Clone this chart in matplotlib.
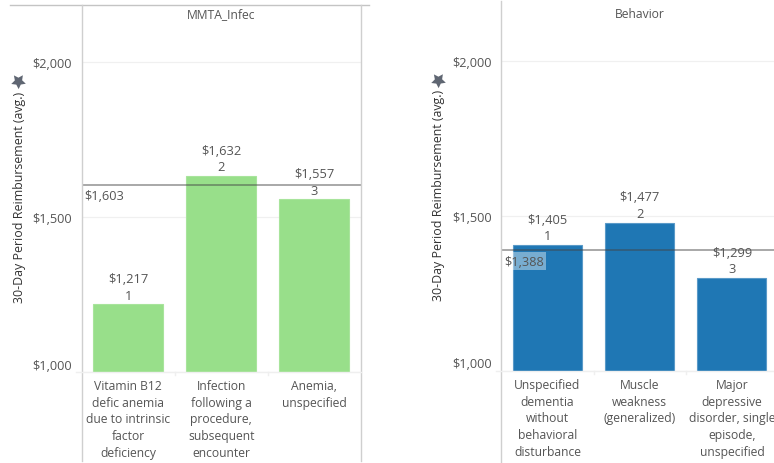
import matplotlib
matplotlib.use('Agg')
import matplotlib.pyplot as plt
from matplotlib.lines import Line2D
from matplotlib.ticker import FixedLocator, FuncFormatter

plt.rcParams['font.family'] = ['Open Sans', 'DejaVu Sans']

left_title = 'MMTA_Infec'
left_labels = ['Vitamin B12\ndefic anemia\ndue to intrinsic\nfactor\ndeficiency',
               'Infection\nfollowing a\nprocedure,\nsubsequent\nencounter',
               'Anemia,\nunspecified']
left_values = [1217, 1632, 1557]
left_ranks = [1, 2, 3]
left_ref = 1603

right_title = 'Behavior'
right_labels = ['Unspecified\ndementia\nwithout\nbehavioral\ndisturbance',
                'Muscle\nweakness\n(generalized)',
                'Major\ndepressive\ndisorder, single\nepisode,\nunspecified']
right_values = [1405, 1477, 1299]
right_ranks = [1, 2, 3]
right_ref = 1388

y_ticks = [1000, 1500, 2000]
y_title = '30-Day Period Reimbursement (avg.)'

TEXT = '#555555'
W, H = 774, 464


def draw_panel(box, ymax, title_drop, title, labels, values, ranks, ref, color, edge):
    # box is left, top, right, bottom in pixels of the figure
    x0, top, x1, bottom = box
    ax = fig.add_axes([x0 / W, (H - bottom) / H, (x1 - x0) / W, (bottom - top) / H])
    xs = range(len(values))
    ax.bar(xs, values, width=0.75, color=color, edgecolor=edge, linewidth=0.8, zorder=2)
    ax.set_xlim(-0.5, 2.5)
    ax.set_ylim(1000, ymax)
    ax.yaxis.set_major_locator(FixedLocator(y_ticks))
    ax.yaxis.set_major_formatter(FuncFormatter(lambda v, p: f'${v:,.0f}'))
    ax.tick_params(axis='y', length=0, pad=7, labelsize=9.2, labelcolor=TEXT)
    ax.get_yticklabels()[0].set_va('bottom')
    ax.set_xticks([])
    ax.grid(axis='y', color='#f0f0f0', linewidth=0.9, zorder=0)
    for s in ax.spines.values():
        s.set_visible(False)
    ax.patch.set_alpha(0)

    for x, v, r, lab in zip(xs, values, ranks, labels):
        ax.annotate(f'${v:,}\n{r}', (x, v), xytext=(0, 2), textcoords='offset points',
                    ha='center', va='bottom', fontsize=9.3, color=TEXT, linespacing=1.36, zorder=5)
        ax.annotate(lab, (x, 1000), xytext=(0, -5.5), textcoords='offset points',
                    ha='center', va='top', fontsize=8.7, color=TEXT, linespacing=1.36,
                    annotation_clip=False)

    ax.axhline(ref, color='#444444', alpha=0.5, linewidth=1.3, zorder=4)
    ax.annotate(f'${ref:,}', (-0.5, ref), xytext=(2, -3), textcoords='offset points',
                ha='left', va='top', fontsize=9.2, color=TEXT, zorder=6,
                bbox=dict(facecolor='white', edgecolor='none', alpha=0.4, pad=1.5))
    ax.annotate(title, (1, 1), xycoords=('data', 'axes fraction'), xytext=(0, -title_drop),
                textcoords='offset pixels', ha='center', va='center', fontsize=8.7, color=TEXT)
    return ax


fig = plt.figure(figsize=(W / 100, H / 100), dpi=100)

draw_panel((81.5, 7.5, 361, 372.5), 2181, 7, left_title, left_labels, left_values, left_ranks,
           left_ref, '#98df8a', '#a8e49c')
draw_panel((501.3, 4, 778, 371.5), 2187, 10, right_title, right_labels, right_values, right_ranks,
           right_ref, '#1f77b4', '#5a9ac8')


def rule(x, y, color='#cfcfcf', lw=1.0):
    fig.add_artist(Line2D([v / W for v in x], [1 - v / H for v in y], color=color, linewidth=lw))


# frame lines
rule((10, 369), (6, 6), '#c4c4c4')
rule((81.5, 81.5), (6, 462))
rule((361, 361), (6, 462))
rule((501.3, 501.3), (2, 464))
# category axis
rule((76, 361), (372.5, 372.5), '#efefef')
rule((496, 774), (371.5, 371.5), '#efefef')
for px, py in [(174.5, 372.5), (268, 372.5), (593.5, 371.5), (686, 371.5)]:
    rule((px, px), (py, py + 3), '#efefef')

# axis titles and pin icons
fig.text(20 / W, 1 - 197 / H, y_title, rotation=90, ha='center', va='center', fontsize=8.9, color='#333333')
fig.text(438.7 / W, 1 - 195.5 / H, y_title, rotation=90, ha='center', va='center', fontsize=8.9, color='#333333')
for px, py in [(18, 82), (438, 81)]:
    fig.add_artist(Line2D([px / W], [1 - py / H], marker=(5, 1, -35), markersize=11,
                          color='#5f6672', markeredgewidth=0))

fig.savefig('out.png', dpi=100)
